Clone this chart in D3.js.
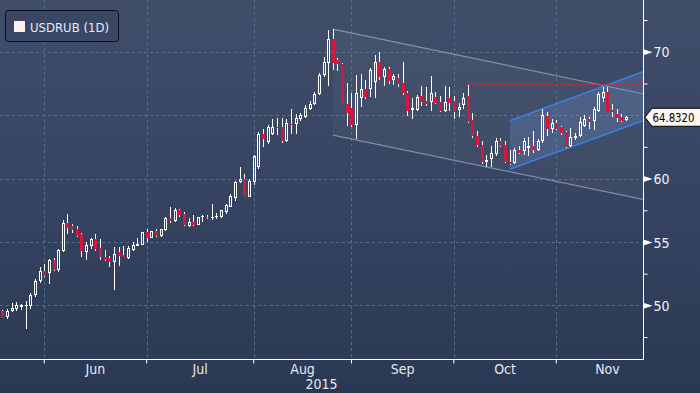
<!DOCTYPE html>
<html><head><meta charset="utf-8">
<script src="https://cdn.jsdelivr.net/npm/d3@7"></script>
<style>html,body{margin:0;padding:0;background:#2c3954;}svg{display:block;}</style>
</head><body>
<svg id="chart" width="700" height="393"></svg>
<script>
// ---------- DATA ----------
const dates = [
"2015-05-19","2015-05-20","2015-05-21","2015-05-22","2015-05-25","2015-05-26","2015-05-27","2015-05-28","2015-05-29",
"2015-06-01","2015-06-02","2015-06-03","2015-06-04","2015-06-05","2015-06-08","2015-06-09","2015-06-10","2015-06-11","2015-06-12",
"2015-06-15","2015-06-16","2015-06-17","2015-06-18","2015-06-19","2015-06-22","2015-06-23","2015-06-24","2015-06-25","2015-06-26","2015-06-29","2015-06-30",
"2015-07-01","2015-07-02","2015-07-03","2015-07-06","2015-07-07","2015-07-08","2015-07-09","2015-07-10","2015-07-13","2015-07-14","2015-07-15",
"2015-07-16","2015-07-17","2015-07-20","2015-07-21","2015-07-22","2015-07-23","2015-07-24","2015-07-27","2015-07-28","2015-07-29","2015-07-30","2015-07-31",
"2015-08-03","2015-08-04","2015-08-05","2015-08-06","2015-08-07","2015-08-10","2015-08-11","2015-08-12","2015-08-13","2015-08-14","2015-08-17",
"2015-08-18","2015-08-19","2015-08-20","2015-08-21","2015-08-24","2015-08-25","2015-08-26","2015-08-27","2015-08-28","2015-08-31",
"2015-09-01","2015-09-02","2015-09-03","2015-09-04","2015-09-07","2015-09-08","2015-09-09","2015-09-10","2015-09-11","2015-09-14","2015-09-15",
"2015-09-16","2015-09-17","2015-09-18","2015-09-21","2015-09-22","2015-09-23","2015-09-24","2015-09-25","2015-09-28","2015-09-29","2015-09-30",
"2015-10-01","2015-10-02","2015-10-05","2015-10-06","2015-10-07","2015-10-08","2015-10-09","2015-10-12","2015-10-13","2015-10-14","2015-10-15",
"2015-10-16","2015-10-19","2015-10-20","2015-10-21","2015-10-22","2015-10-23","2015-10-26","2015-10-27","2015-10-28","2015-10-29","2015-10-30",
"2015-11-02","2015-11-03","2015-11-04","2015-11-05","2015-11-06","2015-11-09","2015-11-10","2015-11-11","2015-11-12","2015-11-13","2015-11-16",
"2015-11-17","2015-11-18","2015-11-19","2015-11-20","2015-11-23"];

const open = [
49.55,49.05,49.58,49.71,49.90,49.92,49.97,50.82,51.92,52.71,
52.58,53.58,52.79,54.29,56.47,56.29,56.00,55.63,54.24,54.71,
55.21,54.55,53.82,53.74,53.42,54.21,53.97,53.74,54.37,54.71,
54.79,55.82,55.34,55.87,55.50,55.95,56.92,56.68,57.53,57.21,
56.22,56.61,56.35,56.93,56.98,56.90,56.93,56.93,57.40,57.79,
58.49,59.69,60.00,58.57,59.74,60.92,63.55,62.87,63.55,64.05,
64.03,62.97,64.29,64.29,64.68,64.87,65.45,65.87,66.66,68.16,
69.08,71.00,69.34,69.00,65.87,65.53,64.21,66.39,67.03,67.10,
67.58,69.16,68.03,68.60,67.76,67.94,67.53,66.74,65.42,65.42,
66.53,66.08,66.00,66.42,66.05,65.34,66.32,66.13,65.39,65.80,
66.50,64.58,63.34,62.68,61.32,61.58,61.95,63.00,62.63,61.32,
61.24,62.29,62.16,62.37,62.53,62.29,62.97,64.95,63.89,64.37,
64.03,63.68,62.53,63.16,63.32,64.16,64.68,64.55,65.34,66.32,
66.84,65.37,65.08,64.82,64.63];
const high = [
49.63,49.71,50.16,50.24,50.13,50.34,50.95,52.08,53.03,53.24,
53.66,53.71,54.42,56.76,57.21,56.42,56.26,55.74,55.03,55.34,
55.63,55.24,54.34,53.92,54.61,54.58,54.68,54.71,55.03,55.34,
55.82,56.03,55.87,56.03,56.05,57.00,57.79,57.66,57.60,57.34,
56.88,57.14,57.00,57.16,57.10,58.00,57.29,57.55,58.02,58.80,
59.84,60.91,60.34,59.95,61.85,63.68,63.87,64.26,64.66,64.74,
64.74,64.66,65.45,65.08,65.13,65.79,66.08,66.84,68.29,69.61,
71.71,71.76,69.47,69.13,67.50,66.71,68.16,68.21,67.76,68.68,
69.74,70.00,68.76,68.82,68.24,68.28,69.21,66.92,66.39,66.58,
67.32,67.18,68.05,66.79,66.53,67.26,67.18,66.53,65.95,66.72,
67.40,65.18,63.74,62.95,61.89,62.55,63.21,63.16,63.00,62.29,
62.42,62.55,63.21,63.26,63.74,63.08,65.47,65.21,64.68,64.63,
64.16,63.76,63.95,63.63,64.89,65.00,64.82,65.61,66.79,67.18,
67.18,65.87,65.47,65.08,64.95];
const low = [
48.97,48.92,49.50,49.55,49.63,48.13,49.71,50.68,51.74,52.26,
51.68,52.71,52.63,54.18,55.63,55.71,55.42,53.84,53.58,54.45,
54.32,53.58,53.50,53.05,51.21,53.13,53.79,53.66,54.29,54.71,
54.76,55.03,55.32,55.42,55.42,55.87,56.50,56.61,56.95,56.28,
56.17,56.28,56.33,56.54,56.80,56.74,56.80,56.90,57.19,57.73,
58.26,59.64,58.62,58.54,59.48,60.79,62.50,62.76,63.47,63.42,
62.82,62.90,63.55,63.55,64.53,64.74,65.39,65.79,66.58,68.03,
67.29,68.55,68.47,65.84,64.13,64.03,63.08,65.66,66.24,66.45,
66.32,67.76,67.29,67.45,67.37,67.22,66.58,64.95,64.68,65.34,
65.74,65.74,65.34,65.87,65.26,65.21,65.34,64.68,64.82,65.50,
64.39,63.16,62.47,61.16,60.89,60.89,61.76,62.47,61.24,61.10,
61.16,61.95,61.84,61.76,62.03,62.21,62.84,63.37,63.58,63.84,
63.42,62.37,62.45,63.05,63.24,64.10,63.89,63.84,65.26,66.00,
65.21,64.82,64.42,64.47,64.55];
const close = [
49.03,49.53,49.82,50.00,50.03,50.00,50.79,51.92,52.71,52.34,
53.58,52.79,54.34,56.53,56.13,55.95,55.50,54.29,54.76,55.24,
54.42,53.79,53.58,53.42,54.03,53.92,53.84,54.50,54.76,54.87,
55.76,55.34,55.84,55.50,56.03,56.87,56.66,57.53,57.14,56.35,
56.61,56.35,56.98,57.08,56.93,57.00,57.08,57.53,57.92,58.62,
59.71,60.00,58.65,59.79,61.74,63.55,63.10,64.03,64.05,63.97,
62.97,64.37,64.24,64.76,65.00,65.55,65.87,66.66,68.16,69.21,
70.97,69.08,69.00,65.87,65.18,64.21,66.71,67.03,66.45,68.55,
69.16,67.97,68.60,67.68,68.08,67.49,66.74,65.34,65.53,66.47,
66.00,65.87,66.74,65.95,65.34,66.00,65.92,65.26,65.68,66.35,
64.47,63.34,62.68,61.32,61.47,62.03,63.00,62.55,61.32,61.18,
62.29,62.03,62.95,62.53,62.26,62.95,65.00,63.89,64.37,63.89,
63.63,62.45,63.24,63.37,64.42,64.68,64.47,65.47,66.66,66.79,
65.26,65.21,64.74,64.55,64.832];

const yTicks = [50, 55, 60, 65, 70];
const yMinorTicks = [47.5, 52.5, 57.5, 62.5, 67.5, 72.5];
const monthLabels = ["Jun", "Jul", "Aug", "Sep", "Oct", "Nov"];
const yearLabel = "2015";
const seriesName = "USDRUB (1D)";
const lastPriceLabel = "64.8320";
const lastPrice = 64.832;
// annotations: value at start date and value at the right edge of the plot
const resistance = { start: "2015-10-06", value: 67.42 };
const downChannel = { start: "2015-08-26", upper: [71.79, 66.69], lower: [63.43, 58.36] };
const upChannel = { start: "2015-10-19", upper: [64.56, 68.42], lower: [60.73, 64.56] };

// ---------- LAYOUT ----------
const W = 700, H = 393;
const plotRight = 643, plotBottom = 359;
const step = 4.655;
const svg = d3.select("#chart");

const x = d3.scaleBand().domain(dates).range([0, dates.length * step]).padding(0);
const cx = d => x(d) + x.bandwidth() / 2;
const y = d3.scaleLinear().domain([45.77, 74.08]).range([plotBottom, 0]);

// background
const defs = svg.append("defs");
const grad = defs.append("linearGradient").attr("id", "bg").attr("x1", 0).attr("y1", 0).attr("x2", 0).attr("y2", 1);
grad.append("stop").attr("offset", "0%").attr("stop-color", "#414e6a");
grad.append("stop").attr("offset", "55%").attr("stop-color", "#354360");
grad.append("stop").attr("offset", "100%").attr("stop-color", "#2b3853");
svg.append("rect").attr("width", W).attr("height", H).attr("fill", "url(#bg)");

// month start dates
const monthStarts = [];
dates.forEach((d, i) => { if (i > 0 && d.slice(5, 7) !== dates[i - 1].slice(5, 7)) monthStarts.push(d); });

// grid
const grid = svg.append("g").attr("stroke", "#4f7289").attr("stroke-dasharray", "3,3").attr("stroke-width", 1);
yTicks.forEach(v => {
  const yy = Math.round(y(v)) + 0.5;
  grid.append("line").attr("x1", 0).attr("x2", plotRight).attr("y1", yy).attr("y2", yy);
});
monthStarts.forEach(d => {
  const xx = Math.round(cx(d)) + 0.5;
  grid.append("line").attr("x1", xx).attr("x2", xx).attr("y1", 0).attr("y2", plotBottom);
});

// annotations
const xRight = plotRight;
function chanPoly(ch) {
  const x0 = cx(ch.start);
  return [[x0, y(ch.upper[0])], [xRight, y(ch.upper[1])], [xRight, y(ch.lower[1])], [x0, y(ch.lower[0])]];
}
const line = d3.line();
// down channel (grey)
const dp = chanPoly(downChannel);
svg.append("path").attr("d", line(dp) + "Z").attr("fill", "rgba(255,255,255,0.035)");
svg.append("path").attr("d", line([dp[0], dp[1]])).attr("stroke", "rgba(190,198,215,0.55)").attr("stroke-width", 1.2).attr("fill", "none");
svg.append("path").attr("d", line([dp[3], dp[2]])).attr("stroke", "rgba(190,198,215,0.55)").attr("stroke-width", 1.2).attr("fill", "none");
// up channel (blue)
const up = chanPoly(upChannel);
svg.append("path").attr("d", line(up) + "Z").attr("fill", "rgba(130,170,240,0.2)");
svg.append("path").attr("d", line([up[0], up[1]])).attr("stroke", "#3c7fe0").attr("stroke-width", 1.5).attr("fill", "none");
svg.append("path").attr("d", line([up[3], up[2]])).attr("stroke", "#3c7fe0").attr("stroke-width", 1.5).attr("fill", "none");
// resistance dotted red
svg.append("line").attr("x1", cx(resistance.start)).attr("x2", xRight)
  .attr("y1", y(resistance.value)).attr("y2", y(resistance.value))
  .attr("stroke", "#e8202a").attr("stroke-width", 1.6).attr("stroke-dasharray", "2,2");

// candles
const candles = svg.append("g");
dates.forEach((d, i) => {
  const r = Math.round(cx(d));
  const o = open[i], c = close[i], hi = high[i], lo = low[i];
  const isUp = c >= o;
  const yTop = Math.round(y(Math.max(o, c)));
  let yBot = Math.round(y(Math.min(o, c)));
  if (yBot - yTop < 1) yBot = yTop + 1;
  const yH = Math.round(y(hi)), yL = Math.round(y(lo));
  const g = candles.append("g");
  g.append("line").attr("x1", r + 0.5).attr("x2", r + 0.5).attr("y1", yH).attr("y2", yTop).attr("stroke", "#ffffff");
  g.append("line").attr("x1", r + 0.5).attr("x2", r + 0.5).attr("y1", yBot).attr("y2", yL).attr("stroke", "#ffffff");
  if (isUp) {
    g.append("rect").attr("x", r - 0.5).attr("y", yTop + 0.5).attr("width", 2).attr("height", Math.max(0.01, yBot - yTop - 1))
      .attr("fill", "none").attr("stroke", "#ffffff").attr("stroke-width", 1);
  } else {
    g.append("rect").attr("x", r - 1).attr("y", yTop).attr("width", 3).attr("height", yBot - yTop)
      .attr("fill", "#d3173f");
  }
});

// axes
const fontAxis = "'Liberation Sans Narrow','DejaVu Sans Condensed','Liberation Sans',sans-serif";
const ly = y(lastPrice);
// tick labels hidden where the last-price flag covers them
const shownTicks = yTicks.filter(v => Math.abs(y(v) - ly) > 12);
const yAxis = svg.append("g").attr("transform", `translate(${plotRight + 0.5},0)`)
  .call(d3.axisRight(y).tickValues(shownTicks).tickSize(0).tickPadding(10).tickFormat(d3.format("d")));
yAxis.select(".domain").remove();
yAxis.selectAll(".tick text").attr("fill", "#eef2fa").attr("font-size", 14).attr("font-family", fontAxis).attr("dy", "0.36em");
yAxis.selectAll(".tick").append("path").attr("d", "M0,-3L9,0L0,3Z").attr("fill", "#ffffff");

const yMinor = svg.append("g").attr("transform", `translate(${plotRight + 0.5},0)`)
  .call(d3.axisRight(y).tickValues(yMinorTicks).tickSize(4).tickFormat(""));
yMinor.select(".domain").remove();
yMinor.selectAll(".tick line").attr("stroke", "#ffffff");

const xAxis = svg.append("g").attr("transform", `translate(0,${plotBottom + 0.5})`)
  .call(d3.axisBottom(x).tickValues(monthStarts).tickSize(4).tickFormat(""));
xAxis.select(".domain").remove();
xAxis.selectAll(".tick line").attr("stroke", "#ffffff");

// axis lines
svg.append("line").attr("x1", plotRight + 0.5).attr("x2", plotRight + 0.5).attr("y1", 0).attr("y2", plotBottom + 1).attr("stroke", "#fff");
svg.append("line").attr("x1", 0).attr("x2", plotRight + 1).attr("y1", plotBottom + 0.5).attr("y2", plotBottom + 0.5).attr("stroke", "#fff");

// month labels
const tickX = monthStarts.map(cx);
const avgMonth = (tickX[tickX.length - 1] - tickX[0]) / (tickX.length - 1);
monthLabels.forEach((m, i) => {
  const a = tickX[i], b = i + 1 < tickX.length ? tickX[i + 1] : tickX[i] + avgMonth;
  svg.append("text").attr("x", (a + b) / 2).attr("y", 374).attr("text-anchor", "middle")
    .attr("fill", "#e3e9f3").attr("font-size", 14).attr("font-family", fontAxis).text(m);
});
svg.append("text").attr("x", plotRight / 2).attr("y", 389).attr("text-anchor", "middle")
  .attr("fill", "#e3e9f3").attr("font-size", 14).attr("font-family", fontAxis).text(yearLabel);

// last price label
svg.append("path").attr("d", `M${plotRight + 2},${ly} L${plotRight + 9},${ly - 9} L${W + 2},${ly - 9} L${W + 2},${ly + 9} L${plotRight + 9},${ly + 9} Z`)
  .attr("fill", "#fff6ef").attr("stroke", "#000").attr("stroke-width", 1);
svg.append("text").attr("x", plotRight + 9.5).attr("y", ly + 5).attr("fill", "#000")
  .attr("font-size", 13).attr("font-family", fontAxis)
  .attr("textLength", 42).attr("lengthAdjust", "spacingAndGlyphs").text(lastPriceLabel);

// legend
const lg = svg.append("g");
lg.append("rect").attr("x", 5.5).attr("y", 10.5).attr("width", 113).attr("height", 31).attr("rx", 3)
  .attr("fill", "#3a4764").attr("stroke", "#0b0f1a").attr("stroke-width", 1);
lg.append("rect").attr("x", 14).attr("y", 21).attr("width", 11).attr("height", 11).attr("fill", "#fff1f0");
lg.append("text").attr("x", 30).attr("y", 31.5).attr("fill", "#e6ecf6").attr("font-size", 13)
  .attr("font-family", "'DejaVu Sans Condensed','Liberation Sans',sans-serif").text(seriesName);
</script>
</body></html>
